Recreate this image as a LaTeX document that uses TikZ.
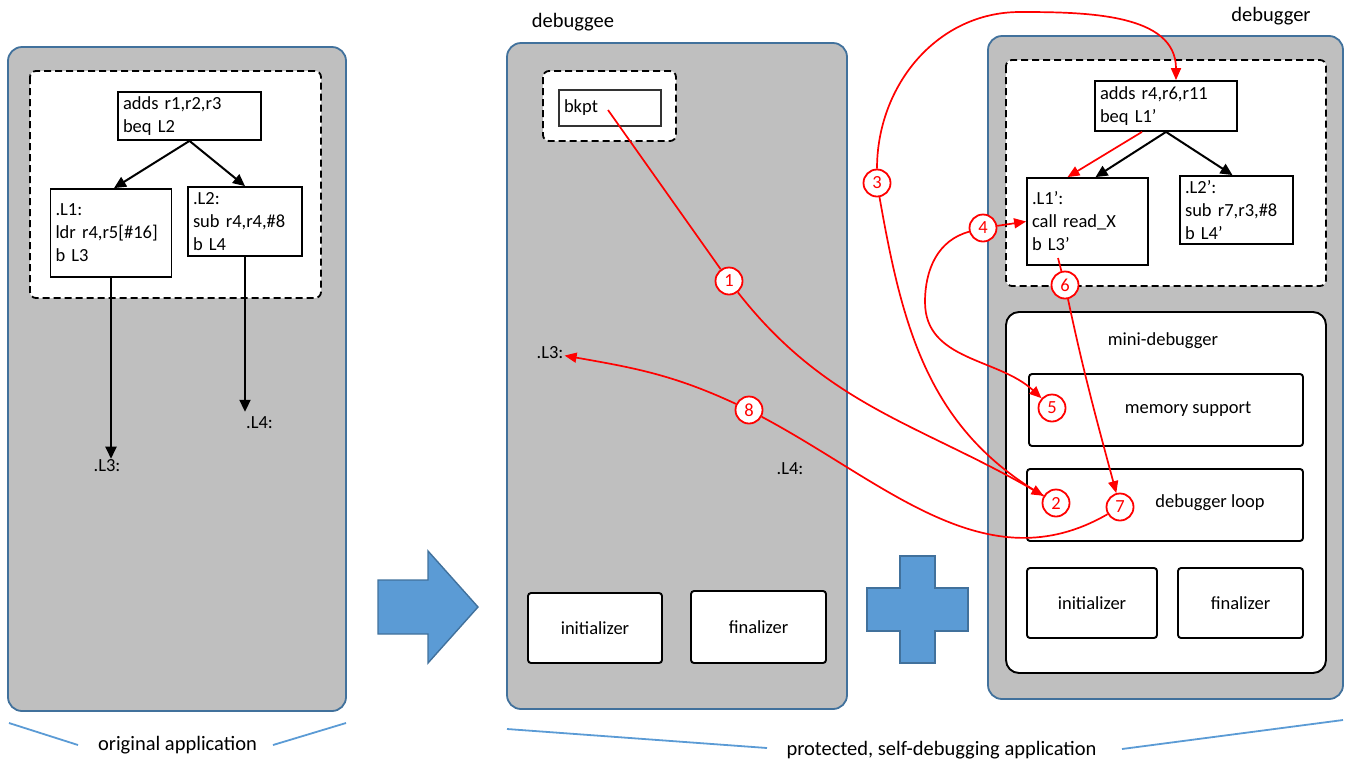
\documentclass[tikz,border=0pt]{standalone}
\usepackage{fontspec}
\setmainfont{Carlito}
\usepackage{tikz}
\usetikzlibrary{arrows.meta}
\definecolor{panelgray}{HTML}{BFBFBF}
\definecolor{panelblue}{HTML}{41719C}
\definecolor{shapeblue}{HTML}{5B9BD5}

\begin{document}
\begin{tikzpicture}[x=1pt, y=1pt,
      every node/.append style={font={\fontsize{18.5}{23}\selectfont}},
      title/.style={inner sep=1pt, font={\fontsize{20.5}{24}\selectfont}}]
    \tikzstyle{panel} = [draw=panelblue, fill=panelgray, line width=1.8pt, rounded corners=14pt]
    \tikzstyle{cfgregion} = [draw, fill=white, line width=1.8pt, dash pattern=on 7pt off 4pt, rounded corners=6pt]
    \tikzstyle{insn} = [draw, fill=white, line width=1.8pt, align=left, inner xsep=5pt, inner ysep=2pt]
    \tikzstyle{unit} = [draw, fill=white, line width=1.9pt, rounded corners=3pt, inner sep=0pt]
    \tikzstyle{lbl} = [inner sep=1pt]
    \tikzstyle{stepnum} = [circle, draw=red, fill=white, text=red, line width=1.8pt, minimum size=27pt, inner sep=0pt]
    \tikzstyle{redflow} = [draw=red, line width=1.7pt, -{Triangle[length=12pt,width=10pt]}]
    \tikzstyle{cfgedge} = [line width=2pt, -{Triangle[length=12pt,width=11pt]}]
    \tikzstyle{blueshape} = [fill=shapeblue, draw=panelblue, line width=1.4pt]
    \tikzstyle{bracket} = [draw=shapeblue, line width=1.8pt]
    \useasboundingbox (0,0) rectangle (1351,-764);

    \draw[panel] (8,-47) rectangle (346,-711);
    \draw[cfgregion] (30,-71) rectangle (321,-298);
    \node[insn, text width=133pt, minimum height=48pt] (oadds) at (189.5,-116) {adds r1,r2,r3\\beq L2};
    \node[insn, text width=111pt, minimum height=88pt] (oL1) at (111,-233) {.L1:\\ldr r4,r5[\#16]\\b L3};
    \node[insn, text width=104pt, minimum height=69pt] (oL2) at (245,-221.5) {.L2:\\sub r4,r4,\#8\\b L4};
    \node[lbl] (oL3) at (107,-466) {.L3:};
    \node[lbl] (oL4) at (259.5,-423) {.L4:};
    \draw[cfgedge] (oadds.south) -- ([xshift=3pt]oL1.north);
    \draw[cfgedge] (oadds.south) -- (oL2.north);
    \draw[cfgedge] (oL1.south) -- (oL1.south |- oL3.north);
    \draw[cfgedge] (oL2.south) -- ([yshift=4pt]oL2.south |- oL4.north);

    \draw[blueshape] (378,-580) -- (428,-580) -- (428,-551) -- (478,-607) -- (428,-663) -- (428,-634) -- (378,-634) -- cycle;

    \node[title] (debuggee) at (573,-22) {debuggee};
    \draw[panel] (507,-43) rectangle (847,-709);
    \draw[cfgregion] (543,-71) rectangle (676,-141);
    \node[insn, draw=black!80, line width=1.4pt, text width=92pt, minimum height=36pt] (bkpt) at (610,-108) {bkpt};
    \node[lbl] (mL3) at (550,-353) {.L3:};
    \node[lbl] (mL4) at (790,-469) {.L4:};
    \node[unit, minimum width=134pt, minimum height=70pt] (minit) at (595,-628) {initializer};
    \node[unit, minimum width=135pt, minimum height=72pt] (mfin) at (758.5,-627) {finalizer};

    \draw[blueshape] (900,-556) -- (935,-556) -- (935,-588) -- (968,-588) -- (968,-631) -- (935,-631) -- (935,-663)
      -- (900,-663) -- (900,-631) -- (867,-631) -- (867,-588) -- (900,-588) -- cycle;

    \node[title] (debugger) at (1271,-16) {debugger};
    \draw[panel] (988,-36) rectangle (1343,-699);
    \draw[cfgregion] (1006,-60) rectangle (1326,-286);
    \node[insn, text width=132pt, minimum height=50pt] (dadds) at (1166,-106) {adds r4,r6,r11\\beq L1'};
    \node[insn, text width=111pt, minimum height=87pt] (dL1) at (1087.5,-221.5) {.L1':\\call read\_X\\b L3'};
    \node[insn, text width=103pt, minimum height=68pt] (dL2) at (1236.5,-210) {.L2':\\sub r7,r3,\#8\\b L4'};
    \draw[cfgedge] (dadds.south) -- ([xshift=8pt]dL1.north);
    \draw[cfgedge] (dadds.south) -- ([xshift=-4pt]dL2.north);
    \draw[draw, fill=white, line width=1.9pt, rounded corners=13pt] (1006,-312) rectangle (1326,-673);
    \node (minilabel) at (1163,-341) {mini-debugger};
    \node[unit, minimum width=274pt, minimum height=72pt] (mem) at (1166,-410) {};
    \node (memtext) at (1188,-409) {memory support};
    \node[unit, minimum width=276pt, minimum height=72pt] (loop) at (1165,-505) {};
    \node (looptext) at (1210,-503) {debugger loop};
    \node[unit, minimum width=130pt, minimum height=70pt] (dinit) at (1092,-603) {initializer};
    \node[unit, minimum width=125pt, minimum height=70pt] (dfin) at (1240.5,-603) {finalizer};

    \node[stepnum] (c1) at (729,-281) {1};
    \node[stepnum] (c2) at (1056,-503) {2};
    \node[stepnum] (c3) at (877,-183) {3};
    \node[stepnum] (c4) at (983,-228) {4};
    \node[stepnum] (c5) at (1052,-408) {5};
    \node[stepnum] (c6) at (1065,-285) {6};
    \node[stepnum] (c7) at (1120,-507) {7};
    \node[stepnum] (c8) at (749,-410) {8};
    \coordinate (bktext) at (608,-110);
    \coordinate (bl3text) at (1058,-258);
    \coordinate (arch) at (1020,-12);
    \coordinate (bend) at (925,-302);

    \draw[redflow, -] (bktext) -- (c1);
    \draw[redflow] (c1) to[out=-52,in=150] (c2);
    \draw[redflow, -] (c2) to[out=150,in=-80] (c3);
    \draw[redflow] (c3) to[out=90,in=180] (arch) to[out=0,in=90] ([xshift=10pt]dadds.north);
    \draw[redflow] ([xshift=-24pt]dadds.south) -- ([xshift=-20pt]dL1.north);
    \draw[redflow] (c4) -- (dL1.west);
    \draw[redflow] (c4) to[out=195,in=90] (bend) to[out=-90,in=137] (c5);
    \draw[redflow, -] (bl3text) -- (c6);
    \draw[redflow] (c6) to[out=-78,in=105] (c7);
    \draw[redflow, -] (c7) to[out=210,in=-28] (c8);
    \draw[redflow] (c8) to[out=155,in=-10] (mL3);

    \node (origlabel) at (177.5,-745) {\fontsize{20.5}{24}\selectfont original application};
    \node (protlabel) at (941.5,-750) {\fontsize{20.5}{24}\selectfont protected, self-debugging application};
    \coordinate (ob1) at (9,-723);
    \coordinate (ob2) at (346,-723);
    \coordinate (pb1) at (507,-729);
    \coordinate (pb2) at (1343,-720);
    \draw[bracket] (ob1) -- (78,-745);
    \draw[bracket] (273,-745) -- (ob2);
    \draw[bracket] (pb1) -- (767,-748);
    \draw[bracket] (1122,-749) -- (pb2);
  \end{tikzpicture}
\end{document}
